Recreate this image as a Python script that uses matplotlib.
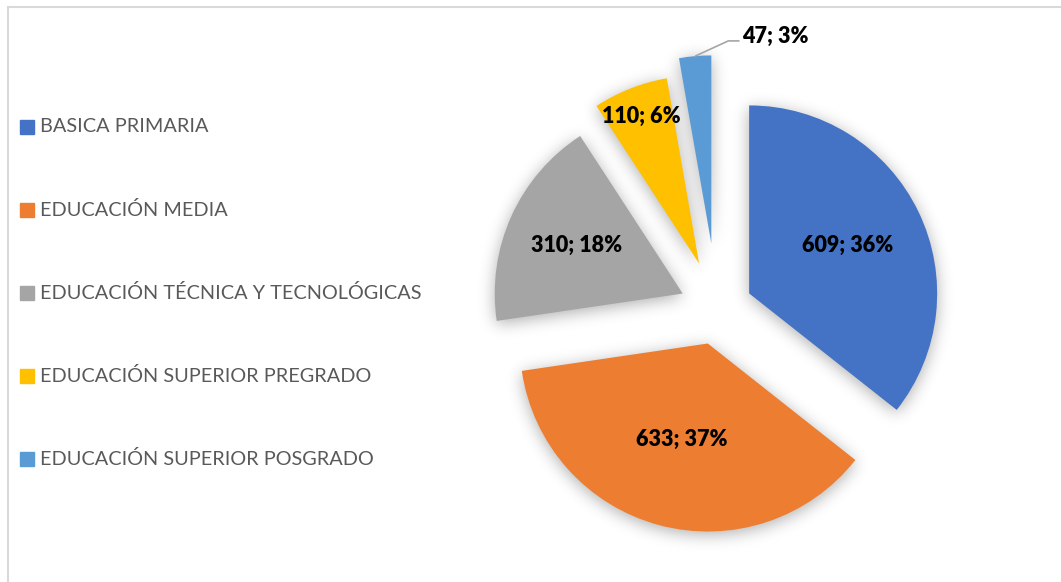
"""Exploded pie of education levels with soft drop shadow and side legend."""
import matplotlib
matplotlib.use("Agg")
import matplotlib.pyplot as plt
from matplotlib.lines import Line2D
import numpy as np

plt.rcParams["font.family"] = ["Lato", "DejaVu Sans"]

labels = [
    "BASICA PRIMARIA",
    "EDUCACIÓN MEDIA",
    "EDUCACIÓN TÉCNICA Y TECNOLÓGICAS",
    "EDUCACIÓN SUPERIOR PREGRADO",
    "EDUCACIÓN SUPERIOR POSGRADO",
]
values = [609, 633, 310, 110, 47]
colors = ["#4472C4", "#ED7D31", "#A5A5A5", "#FFC000", "#5B9BD5"]
explode = [0.19, 0.19, 0.20, 0.26, 0.35]
# distance of each in-slice label from the slice apex (in radii)
label_dist = [0.58, 0.53, 0.62, 0.84, None]

W, H, DPI = 1061, 582, 100
CX, CY, R = 717, 309, 188   # pie centre and radius in pixels
XLIM = (-CX / R, (W - CX) / R)
YLIM = (-(H - CY) / R, CY / R)


def pie_axes(fig):
    ax = fig.add_axes([0, 0, 1, 1])
    return ax


def draw_pie(ax, cols):
    wedges, _ = ax.pie(values, colors=cols, explode=explode, startangle=90,
                       counterclock=False, radius=1.0,
                       wedgeprops=dict(linewidth=0))
    ax.set_xlim(*XLIM)
    ax.set_ylim(*YLIM)
    ax.set_aspect("auto")
    ax.axis("off")
    return wedges


def gauss_blur(img, sigma):
    k = int(3 * sigma)
    x = np.arange(-k, k + 1)
    g = np.exp(-x ** 2 / (2 * sigma ** 2))
    g /= g.sum()
    pad = np.pad(img, k, mode="constant")
    tmp = np.apply_along_axis(lambda r: np.convolve(r, g, mode="valid"), 1, pad)
    return np.apply_along_axis(lambda c: np.convolve(c, g, mode="valid"), 0, tmp)


# shadow mask: render the same pie in black offscreen, then blur it
sfig = plt.figure(figsize=(W / DPI, H / DPI), dpi=DPI)
sax = pie_axes(sfig)
draw_pie(sax, ["black"] * len(values))
sfig.canvas.draw()
mask = 1.0 - np.asarray(sfig.canvas.buffer_rgba())[:, :, 0] / 255.0
plt.close(sfig)
shift = 3
mask = np.roll(mask, shift, axis=0)
shadow = gauss_blur(mask, 8.0)
rgba = np.zeros(shadow.shape + (4,))
rgba[..., 3] = np.clip(shadow, 0, 1) * 0.32

fig = plt.figure(figsize=(W / DPI, H / DPI), dpi=DPI)
ax = pie_axes(fig)
ax.imshow(rgba, extent=(XLIM[0], XLIM[1], YLIM[0], YLIM[1]), origin="upper",
          aspect="auto", zorder=0, interpolation="bilinear")
wedges = draw_pie(ax, colors)
for w in wedges:
    w.set_zorder(2)

total = sum(values)
for w, v, d in zip(wedges, values, label_dist):
    txt = f"{v}; {round(100 * v / total)}%"
    mid = np.deg2rad((w.theta1 + w.theta2) / 2)
    cx, cy = w.center
    if d is not None:
        ax.text(cx + d * np.cos(mid), cy + d * np.sin(mid), txt, ha="center",
                va="center", fontsize=15.5, fontweight="heavy", color="black", zorder=3)
    else:
        # small slice: label sits outside with a leader line
        x0, y0 = cx + np.cos(mid), cy + np.sin(mid)
        ax.plot([x0, 0.06, 0.12], [y0, 1.426, 1.426], color="#A6A6A6", lw=1.2,
                zorder=3, solid_capstyle="butt")
        ax.text(0.135, 1.45, txt, ha="left", va="center", fontsize=15.5,
                fontweight="heavy", color="black", zorder=3)

# legend on the left
for i, (lab, col) in enumerate(zip(labels, colors)):
    y = 1 - (127 + 83 * i) / H
    fig.patches.append(plt.Rectangle((20 / W, y - 7 / H), 14 / W, 14 / H,
                                     transform=fig.transFigure, color=col))
    fig.text(40 / W, y, lab, ha="left", va="center", fontsize=14.3,
             color="#595959")

# chart frame (left and top edges fall inside the picture)
fig.add_artist(Line2D([7.5 / W, 7.5 / W], [0, 1 - 6.5 / H], color="#D9D9D9",
                      lw=1.5, transform=fig.transFigure))
fig.add_artist(Line2D([7.5 / W, 1], [1 - 6.5 / H, 1 - 6.5 / H], color="#D9D9D9",
                      lw=1.5, transform=fig.transFigure))

fig.savefig("out.png", dpi=DPI)
